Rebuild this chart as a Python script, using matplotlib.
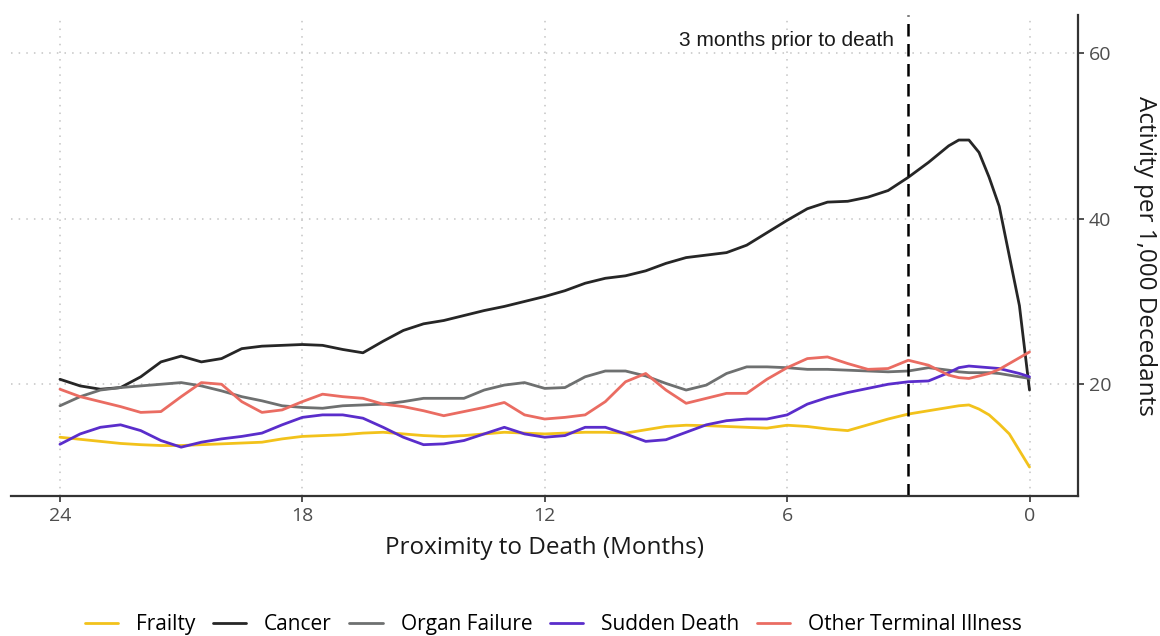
import matplotlib
matplotlib.use('Agg')
import matplotlib.pyplot as plt
import numpy as np

plt.rcParams['font.family'] = ['Open Sans', 'DejaVu Sans']

# months before death: half-month steps down to 2, then quarter steps
months = np.concatenate([np.arange(24, 1.9, -0.5), [1.75, 1.5, 1.25, 1.0, 0.75, 0.5, 0.25, 0.0]])

frailty = [13.6, 13.35, 13.1, 12.85, 12.7, 12.6, 12.6, 12.7, 12.8, 12.9,
           13.0, 13.4, 13.7, 13.8, 13.9, 14.1, 14.2, 14.0, 13.8, 13.7,
           13.8, 14.0, 14.2, 14.1, 14.0, 14.1, 14.2, 14.2, 14.1, 14.5,
           14.9, 15.05, 15.0, 14.9, 14.8, 14.7, 15.05, 14.9, 14.6, 14.4,
           15.1, 15.8, 16.4, 16.8, 17.2,
           17.4, 17.5, 17.0, 16.3, 15.2, 14.0, 12.0, 10.0]
cancer = [20.6, 19.8, 19.4, 19.6, 20.9, 22.7, 23.4, 22.7, 23.1, 24.3,
          24.6, 24.7, 24.8, 24.7, 24.2, 23.8, 25.2, 26.5, 27.3, 27.7,
          28.3, 28.9, 29.4, 30.0, 30.6, 31.3, 32.2, 32.8, 33.1, 33.7,
          34.6, 35.3, 35.6, 35.9, 36.8, 38.3, 39.8, 41.2, 42.0, 42.1,
          42.6, 43.4, 45.0, 46.8, 48.8,
          49.5, 49.5, 48.0, 45.0, 41.5, 35.5, 29.5, 19.3]
organ_failure = [17.4, 18.5, 19.3, 19.6, 19.8, 20.0, 20.2, 19.8, 19.2, 18.5,
                 18.0, 17.4, 17.2, 17.1, 17.4, 17.5, 17.6, 17.9, 18.3, 18.3,
                 18.3, 19.3, 19.9, 20.2, 19.5, 19.6, 20.9, 21.6, 21.6, 21.0,
                 20.1, 19.3, 19.9, 21.3, 22.1, 22.1, 22.0, 21.8, 21.8, 21.7,
                 21.6, 21.5, 21.6, 22.0, 21.7,
                 21.5, 21.4, 21.4, 21.4, 21.3, 21.1, 20.9, 20.7]
sudden_death = [12.75, 14.0, 14.8, 15.1, 14.4, 13.2, 12.4, 13.0, 13.4, 13.7,
                14.1, 15.1, 16.0, 16.3, 16.3, 15.9, 14.8, 13.6, 12.7, 12.8,
                13.2, 14.0, 14.8, 14.0, 13.6, 13.8, 14.8, 14.8, 14.0, 13.1,
                13.3, 14.2, 15.1, 15.6, 15.8, 15.8, 16.3, 17.6, 18.4, 19.0,
                19.5, 20.0, 20.3, 20.4, 21.4,
                22.0, 22.2, 22.1, 22.0, 21.9, 21.6, 21.3, 20.9]
other_terminal = [19.4, 18.5, 17.9, 17.3, 16.6, 16.7, 18.5, 20.2, 20.0, 17.9,
                  16.6, 16.9, 17.9, 18.8, 18.5, 18.3, 17.6, 17.3, 16.8, 16.2,
                  16.7, 17.2, 17.8, 16.3, 15.8, 16.0, 16.3, 17.9, 20.3, 21.3,
                  19.3, 17.7, 18.3, 18.9, 18.9, 20.6, 22.0, 23.1, 23.3, 22.5,
                  21.8, 21.9, 22.9, 22.3, 21.1,
                  20.8, 20.7, 21.0, 21.3, 21.8, 22.5, 23.2, 23.9]

series = [("Frailty", frailty, "#F2C21B"),
          ("Cancer", cancer, "#262626"),
          ("Organ Failure", organ_failure, "#6E7070"),
          ("Sudden Death", sudden_death, "#5A2DCB"),
          ("Other Terminal Illness", other_terminal, "#EA6C62")]

fig = plt.figure(figsize=(11.6, 6.36), dpi=100)
ax = fig.add_axes([0.0099, 0.2201, 0.9194, 0.7563])

for name, vals, col in series:
    ax.plot(months, vals, color=col, lw=2.0, label=name,
            solid_joinstyle='round', solid_capstyle='round')

ax.axvline(3, color='black', lw=1.8, ls=(0, (5, 3)))
ax.text(3.35, 61.5, '3 months prior to death', ha='right', va='center',
        fontsize=15, family=['Liberation Sans', 'DejaVu Sans'], color='#1a1a1a')

ax.set_xlim(25.2, -1.2)
ax.set_ylim(6.5, 64.6)
ax.set_xticks([24, 18, 12, 6, 0])
ax.set_xticklabels(['24', '18', '12', '6', '0'])
ax.set_yticks([20, 40, 60])
ax.yaxis.tick_right()
ax.grid(True, ls=(0, (1, 4)), color='#c4c4c4', lw=1.1)
ax.set_axisbelow(True)

for s in ['left', 'top']:
    ax.spines[s].set_visible(False)
for s in ['bottom', 'right']:
    ax.spines[s].set_color('#333333')
    ax.spines[s].set_linewidth(1.6)

ax.tick_params(axis='x', length=4, width=1.2, color='#333333', labelsize=14,
               labelcolor='#4d4d4d', pad=4)
ax.tick_params(axis='y', length=4, width=1.2, color='#333333', labelsize=14,
               labelcolor='#4d4d4d', pad=4)

ax.set_xlabel('Proximity to Death (Months)', fontsize=17.5, color='#1a1a1a', va='center')
ax.xaxis.set_label_coords(0.5, -0.108)
ax.yaxis.set_label_position('right')
ax.set_ylabel('Activity per 1,000 Decedants', fontsize=17.5, color='#1a1a1a',
              rotation=270, va='center')
ax.yaxis.set_label_coords(1.063, 0.5)

handles, labels = ax.get_legend_handles_labels()
fig.legend(handles, labels, loc='center', bbox_to_anchor=(0.477, 0.018), ncol=5,
           frameon=False, fontsize=15, handlelength=1.6, handletextpad=0.85,
           columnspacing=0.85)

fig.savefig('out.png', dpi=100)
